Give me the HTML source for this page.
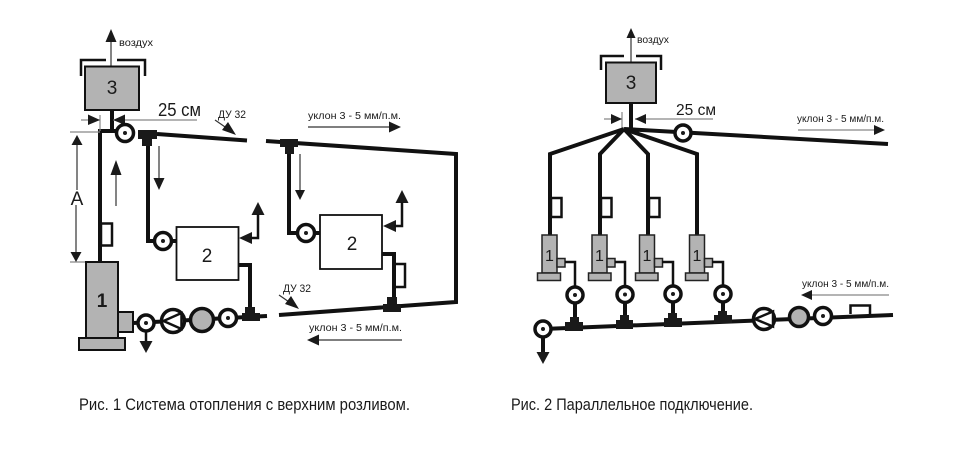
<!DOCTYPE html>
<html><head><meta charset="utf-8"><style>
html,body{margin:0;padding:0;background:#fff;width:965px;height:460px;overflow:hidden}
svg{display:block}
text{font-family:"Liberation Sans",sans-serif;fill:#1a1a1a}
.p{fill:none;stroke:#111;stroke-width:4}
.b{fill:none;stroke:#111;stroke-width:2.5}
.t{fill:none;stroke:#333;stroke-width:1.2}
.g{fill:none;stroke:#888;stroke-width:1.2}
.c{fill:#fff;stroke:#111;stroke-width:3.5}
.gr{fill:#b3b3b3;stroke:#111;stroke-width:2}
.gb{fill:#b3b3b3;stroke:#222;stroke-width:1.5}
.w{fill:#fff;stroke:#111;stroke-width:1.8}
.k{fill:#1a1a1a}
.s{font-size:10px}
.n{font-size:19px}
.tri{fill:#fff;stroke:#111;stroke-width:2.5}
</style></head><body>
<svg width="965" height="460" viewBox="0 0 965 460" xmlns="http://www.w3.org/2000/svg">
<!-- FIG 1 left -->
<path class="t" d="M111 40V66"/><path class="k" d="M111 29l-5.500 13h11z"/>
<text class="s" x="119" y="46" textLength="34" lengthAdjust="spacingAndGlyphs">воздух</text>
<path class="b" d="M81 76V60H106M117 60H145V76"/>
<rect class="gr" x="85" y="66.500" width="54" height="43.500"/>
<text class="n" x="112" y="94" text-anchor="middle">3</text>
<path class="p" d="M112 110V131M125 131H100V262"/>
<path class="g" d="M81 120H100M113 120H197M100 115V131M70 132H100M70 262H86"/>
<path class="k" d="M88 114.500L100 120 88 125zM113 120l12-5.500V125z"/>
<text x="158" y="116" font-size="18" textLength="43" lengthAdjust="spacingAndGlyphs">25 см</text>
<text x="218" y="118" font-size="11" textLength="28" lengthAdjust="spacingAndGlyphs">ДУ 32</text>
<path class="t" d="M215 120L228 129"/><path class="k" d="M236 135L222 130 228 122z"/>
<path class="p" d="M157 134L247 140.500"/>
<circle class="c" cx="125" cy="133" r="8.500"/><circle class="k" cx="125" cy="133" r="2"/>
<path class="k" d="M138 130H157V139H152V146H142V139H138z"/>
<path class="p" d="M148 146V241H155"/>
<path class="t" d="M116 175V206M159 146V178M77 145V190M76 205V252"/>
<path class="k" d="M116 160l-5.500 15h11zM159 190l-5.500-12h11zM77 135l-5.500 10h11zM76 262l-5.500-10h11z"/>
<text x="77" y="205" font-size="19" text-anchor="middle">А</text>
<rect class="b" x="101" y="223.500" width="11" height="22"/>
<circle class="c" cx="163" cy="241" r="8.500"/><circle class="k" cx="163" cy="241" r="2"/>
<path class="p" d="M172 241H176"/>
<rect class="w" x="176.500" y="227" width="62" height="53"/>
<text x="207" y="262" font-size="19" text-anchor="middle">2</text>
<path class="k" d="M239 238l13-6v12zM258 202l-6.500 13h13z"/>
<path class="b" d="M250 238H258V214"/>
<path class="p" d="M238 265H250V308"/>
<rect class="gr" x="86" y="262" width="32" height="76"/>
<rect class="gr" x="79" y="338" width="46" height="12"/>
<rect class="gr" x="118" y="312" width="15" height="20"/>
<text x="102" y="307" font-size="19" font-weight="bold" text-anchor="middle">1</text>
<path class="p" d="M133 323L173 321 228 318 267 316"/>
<circle class="c" cx="146" cy="323" r="8"/><circle class="k" cx="146" cy="323" r="2"/>
<path class="b" d="M146 331V344"/><path class="k" d="M146 353l-6.500-12h13z"/>
<circle class="c" cx="173" cy="321" r="11.500"/>
<path class="tri" d="M163.500 321L181.500 313V329z"/>
<circle cx="202" cy="320" r="11.500" fill="#b3b3b3" stroke="#111" stroke-width="3.500"/>
<circle class="c" cx="228" cy="318" r="8.500"/><circle class="k" cx="228" cy="318" r="2"/>
<path class="k" d="M245 307H255V313H260V321H242V313H245z"/>
<!-- FIG 1 right -->
<path class="p" d="M266 141L456 154V302L279 315"/>
<path class="k" d="M280 139H298V147H294V154H285V147H280z"/>
<path class="p" d="M289 154V233H298"/>
<path class="t" d="M300 154V192"/><path class="k" d="M300 200l-5-10h10z"/>
<circle class="c" cx="306" cy="233" r="8.500"/><circle class="k" cx="306" cy="233" r="2"/>
<path class="p" d="M315 233H320"/>
<rect class="w" x="320" y="215" width="62" height="54"/>
<text x="352" y="250" font-size="19" text-anchor="middle">2</text>
<path class="k" d="M383 226l13-6v12zM402 190l-6.500 13h13z"/>
<path class="b" d="M394 226H402V202"/>
<path class="p" d="M382 254H394V300"/>
<rect class="b" x="394.500" y="264" width="10.500" height="23"/>
<path class="k" d="M387 297H397V304H401V312H383V304H387z"/>
<text class="s" x="308" y="119" textLength="93" lengthAdjust="spacingAndGlyphs">уклон  3 - 5 мм/п.м.</text>
<path class="t" d="M308 127H392"/><path class="k" d="M401 127l-12-5.500v11z"/>
<text class="s" x="309" y="331" textLength="93" lengthAdjust="spacingAndGlyphs">уклон  3 - 5 мм/п.м.</text>
<path class="t" d="M402 340H316"/><path class="k" d="M307 340l12-5.500v11z"/>
<text x="283" y="292" font-size="11" textLength="28" lengthAdjust="spacingAndGlyphs">ДУ 32</text>
<path class="t" d="M279 295L292 304"/><path class="k" d="M299 309L285 304 291 296z"/>
<!-- FIG 2 top -->
<path class="t" d="M631 36V62"/><path class="k" d="M631 28l-4.500 10h9z"/>
<text class="s" x="637" y="43" textLength="32" lengthAdjust="spacingAndGlyphs">воздух</text>
<path class="b" d="M601 70V56H624M636 56H661V70"/>
<rect class="gr" x="606" y="62.500" width="50" height="40.500"/>
<text x="631" y="89" class="n" text-anchor="middle">3</text>
<path class="p" d="M631 103V130"/>
<path class="g" d="M604 119H622M635 119H713M622 112V130"/>
<path class="k" d="M611 114l11 5-11 5zM635 119l11-5v10z"/>
<text x="676" y="115" font-size="16" textLength="40" lengthAdjust="spacingAndGlyphs">25 см</text>
<path class="p" d="M624 129L550 154V235M624 129L600 154V235M624 129L648 154V235M624 129L697 154V235M624 129L888 144"/>
<circle class="c" cx="683" cy="133" r="8"/><circle class="k" cx="683" cy="133" r="2"/>
<text class="s" x="797" y="122" textLength="87" lengthAdjust="spacingAndGlyphs">уклон  3 - 5 мм/п.м.</text>
<path class="g" d="M798 130H876"/><path class="k" d="M885 130l-11-5v10z"/>
<rect class="b" x="551" y="198" width="10.500" height="19"/>
<rect class="b" x="601" y="198" width="10.500" height="19"/>
<rect class="b" x="649" y="198" width="10.500" height="19"/>
<!-- boilers -->
<g><rect class="gb" x="542" y="235" width="15" height="38"/><rect class="gb" x="537.500" y="273" width="23" height="7.500"/><rect class="gb" x="557" y="258.500" width="8" height="8.500"/><text x="549.500" y="261" font-size="16" text-anchor="middle">1</text><path class="b" d="M565 262H575V286" stroke-width="2.500"/></g>
<g><rect class="gb" x="592" y="235" width="15" height="38"/><rect class="gb" x="588.500" y="273" width="22.500" height="7.500"/><rect class="gb" x="607" y="258.500" width="8" height="8.500"/><text x="599.500" y="261" font-size="16" text-anchor="middle">1</text><path class="b" d="M615 262H625V286"/></g>
<g><rect class="gb" x="639.500" y="235" width="15" height="38"/><rect class="gb" x="635.500" y="273" width="22.500" height="7.500"/><rect class="gb" x="654.500" y="258.500" width="8" height="8.500"/><text x="647" y="261" font-size="16" text-anchor="middle">1</text><path class="b" d="M662 262H673V286"/></g>
<g><rect class="gb" x="689.500" y="235" width="15" height="38"/><rect class="gb" x="685.500" y="273" width="22.500" height="7.500"/><rect class="gb" x="704.500" y="258.500" width="8" height="8.500"/><text x="697" y="261" font-size="16" text-anchor="middle">1</text><path class="b" d="M712 262H723V286"/></g>
<!-- main -->
<path class="p" d="M543 329L893 315"/>
<path class="p" d="M575 303V320M625 302V320M673 301V318M723 301V315"/>
<circle class="c" cx="575" cy="295" r="8"/><circle class="k" cx="575" cy="295" r="2"/>
<circle class="c" cx="625" cy="294.500" r="8"/><circle class="k" cx="625" cy="294.500" r="2"/>
<circle class="c" cx="673" cy="294" r="8"/><circle class="k" cx="673" cy="294" r="2"/>
<circle class="c" cx="723" cy="294" r="8"/><circle class="k" cx="723" cy="294" r="2"/>
<path class="k" d="M570 317H579V322H583V331H565V322H570zM620 315H629V320H633V329H616V320H620zM668 313H677V318H682V327H664V318H668zM718 311H727V315H732V323H714V315H718z"/>
<circle class="c" cx="543" cy="329" r="8"/><circle class="k" cx="543" cy="329" r="2"/>
<path class="p" d="M543 337V353"/><path class="k" d="M543 364l-6.500-12h13z"/>
<circle class="c" cx="764" cy="319" r="10.500"/>
<path class="tri" d="M755 319L773 311.500V326.500z"/>
<circle cx="799" cy="317" r="9.500" fill="#b3b3b3" stroke="#111" stroke-width="3.500"/>
<circle class="c" cx="823" cy="316" r="8.500"/><circle class="k" cx="823" cy="316" r="2"/>
<path class="b" d="M850.500 314V305.500H870V314"/>
<text class="s" x="802" y="287" textLength="87" lengthAdjust="spacingAndGlyphs">уклон  3 - 5 мм/п.м.</text>
<path class="g" d="M889 295H810"/><path class="k" d="M801 295l11-5v10z"/>
<!-- captions -->
<text x="79" y="410" font-size="17" textLength="331" lengthAdjust="spacingAndGlyphs">Рис. 1 Система отопления с верхним розливом.</text>
<text x="511" y="410" font-size="17" textLength="242" lengthAdjust="spacingAndGlyphs">Рис. 2 Параллельное подключение.</text>
</svg>
</body></html>
